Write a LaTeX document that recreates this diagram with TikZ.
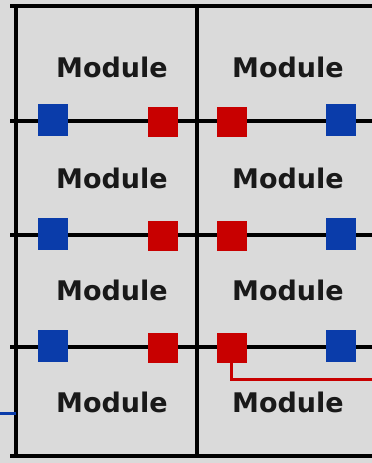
\documentclass[tikz,border=0pt]{standalone}
\usepackage{fontspec}
\setmainfont{DejaVu Sans}
\definecolor{bg}{RGB}{218,218,218}
\definecolor{pblue}{RGB}{10,60,170}
\definecolor{pred}{RGB}{200,0,0}
\begin{document}
\begin{tikzpicture}[x=1pt,y=-1pt,
  grid/.style={line width=3.2pt,black},
  modtext/.style={font=\fontsize{27}{30}\selectfont\bfseries,text=black!90,inner sep=0pt},
  bport/.style={fill=pblue,minimum width=30pt,minimum height=32pt,inner sep=0pt,draw=none},
  rport/.style={fill=pred,minimum width=30pt,minimum height=30pt,inner sep=0pt,draw=none},
  wire/.style={line width=3pt}]
\fill[bg] (0,0) rectangle (372,463);
\useasboundingbox (0,0) rectangle (372,463);
% frame and grid
\draw[grid] (10,6) -- (372,6);
\draw[grid] (10,456) -- (372,456);
\draw[grid] (16,6) -- (16,456);
\draw[grid] (197,6) -- (197,456);
\foreach \y in {121,235,347} \draw[grid] (10,\y) -- (372,\y);
% module labels
\node[modtext] (m1l) at (112,67) {Module};
\node[modtext] (m1r) at (288,67) {Module};
\node[modtext] (m2l) at (112,178) {Module};
\node[modtext] (m2r) at (288,178) {Module};
\node[modtext] (m3l) at (112,290) {Module};
\node[modtext] (m3r) at (288,290) {Module};
\node[modtext] (m4l) at (112,402) {Module};
\node[modtext] (m4r) at (288,402) {Module};
% ports
\foreach \y/\n in {121/a,235/b,347/c}{
  \node[bport] (bl\n) at (53,\y-1) {};
  \node[rport] (rl\n) at (163,\y+1) {};
  \node[rport] (rr\n) at (232,\y+1) {};
  \node[bport] (br\n) at (341,\y-1) {};
}
% external wires
\coordinate (redcorner) at (231,379);
\coordinate (redend) at (372,379);
\draw[wire,pred] (rrc.south -| redcorner) -- (redcorner) -- (redend);
\coordinate (bluestart) at (0,413);
\coordinate (blueend) at (16,413);
\draw[wire,pblue] (bluestart) -- (blueend);
\end{tikzpicture}
\end{document}
